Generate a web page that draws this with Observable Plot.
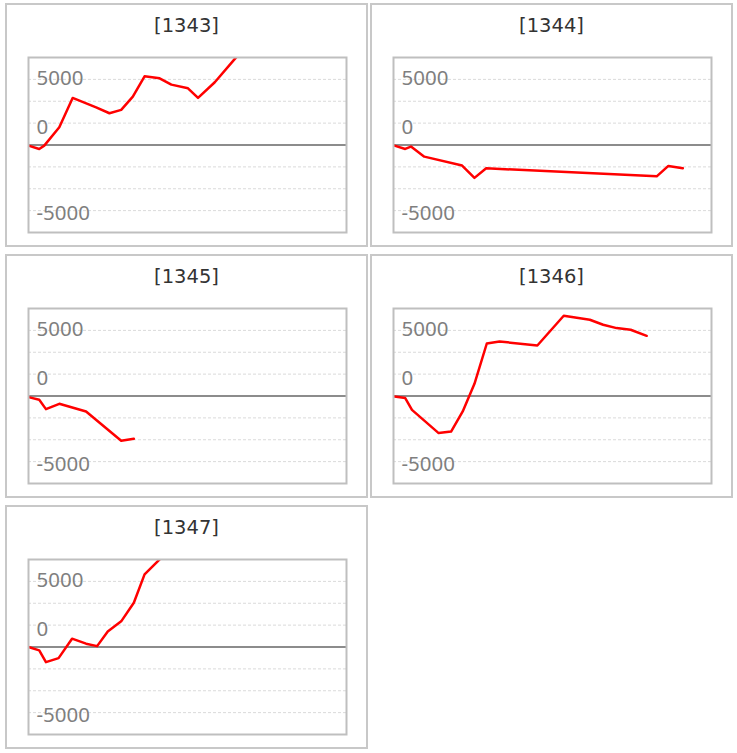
<!DOCTYPE html>
<html>
<head>
<meta charset="utf-8">
<script src="https://cdn.jsdelivr.net/npm/d3@7"></script>
<script src="https://cdn.jsdelivr.net/npm/@observablehq/plot@0.6"></script>
<style>
  body { margin: 0; background: #fff; }
  #grid { position: absolute; left: 5px; top: 3px; display: grid;
          grid-template-columns: 363px 363px; column-gap: 2px; row-gap: 7px; }
  .panel { width: 363px; height: 244px; box-sizing: border-box; border: 2px solid #c8c8c8; background: #fff; }
  .title { height: 41px; line-height: 42px; text-align: center; font-family: "DejaVu Sans"; font-size: 19.5px; color: #333; }
  .panel svg { display: block; }
</style>
</head>
<body>
<div id="grid"></div>
<script>
// ---- data (x = position along the shared time axis, v = cumulative value) ----
const panelNames = ["[1343]", "[1344]", "[1345]", "[1346]", "[1347]"];

const x1343 = [0, 10.7, 15.7, 30.7, 44, 67.4, 80.7, 92.4, 104, 115.7, 130.7, 142.4, 159, 169, 185.7, 205.7, 218];
const v1343 = [-70, -450, -70, 2020, 5380, 4310, 3630, 4010, 5530, 7850, 7620, 6900, 6480, 5380, 7170, 9840, 11450];

const x1344 = [1, 11.7, 17.4, 30.7, 68.4, 80.7, 92.4, 262.4, 274, 288.4];
const v1344 = [-70, -450, -180, -1330, -2350, -3760, -2660, -3580, -2390, -2660];

const x1345 = [0, 10.7, 17.4, 30.7, 57.4, 92.4, 105];
const v1345 = [-130, -430, -1500, -890, -1770, -5120, -4890];

const x1346 = [1, 11.7, 18.4, 45, 57.4, 69, 80.7, 93, 105.7, 143.4, 169.7, 195.7, 209, 222.4, 236.4, 252.4];
const v1346 = [-60, -240, -1580, -4240, -4060, -1770, 1390, 6000, 6230, 5770, 9170, 8710, 8140, 7760, 7570, 6880];

const x1347 = [0, 10.7, 17.4, 30, 43.4, 57.4, 68.4, 79, 92.4, 105, 115.7, 129, 142];
const v1347 = [0, -390, -1730, -1270, 950, 380, 100, 1780, 2930, 5060, 8300, 9820, 11300];

const seriesX = [x1343, x1344, x1345, x1346, x1347];
const seriesV = [v1343, v1344, v1345, v1346, v1347];

const xDomain = [0, 317];
const yDomain = [-10000, 10000];
const gridValues = [-7500, -5000, -2500, 2500, 5000, 7500];
const tickValues = [5000, 0, -5000];
const tickLabels = ["5000", "0", "-5000"];

// ---- styling: vertical offsets of the tick labels as they appear in the chart ----
const labelDy = [-23, -18, 25];

const grid = document.getElementById("grid");

panelNames.forEach((name, i) => {
  const data = seriesX[i].map((x, j) => ({x, v: seriesV[i][j]}));
  const panel = document.createElement("div");
  panel.className = "panel";
  const title = document.createElement("div");
  title.className = "title";
  title.textContent = name;
  panel.appendChild(title);

  const labelMarks = tickValues.map((t, k) =>
    Plot.text([t], {
      y: d => d,
      text: () => tickLabels[k],
      frameAnchor: "left",
      textAnchor: "start",
      dx: 8,
      dy: labelDy[k],
      fontSize: 20.5,
      fontFamily: "Noto Sans",
      fill: "#7f7f7f"
    })
  );

  const chart = Plot.plot({
    width: 359,
    height: 199,
    marginTop: 11,
    marginBottom: 13,
    marginLeft: 21,
    marginRight: 20,
    style: {background: "#fff", overflow: "visible"},
    x: {domain: xDomain, axis: null},
    y: {domain: yDomain, axis: null},
    marks: [
      Plot.gridY(gridValues, {stroke: "#dadada", strokeOpacity: 1, strokeWidth: 1, strokeDasharray: "3,2"}),
      ...labelMarks,
      Plot.ruleY([0], {stroke: "#8c8c8c", strokeWidth: 2}),
      Plot.line(data, {x: "x", y: "v", stroke: "#ff0000", strokeWidth: 2.5, clip: true}),
      Plot.frame({stroke: "#bfbfbf", strokeWidth: 2})
    ]
  });
  panel.appendChild(chart);
  grid.appendChild(panel);
});
</script>
</body>
</html>
